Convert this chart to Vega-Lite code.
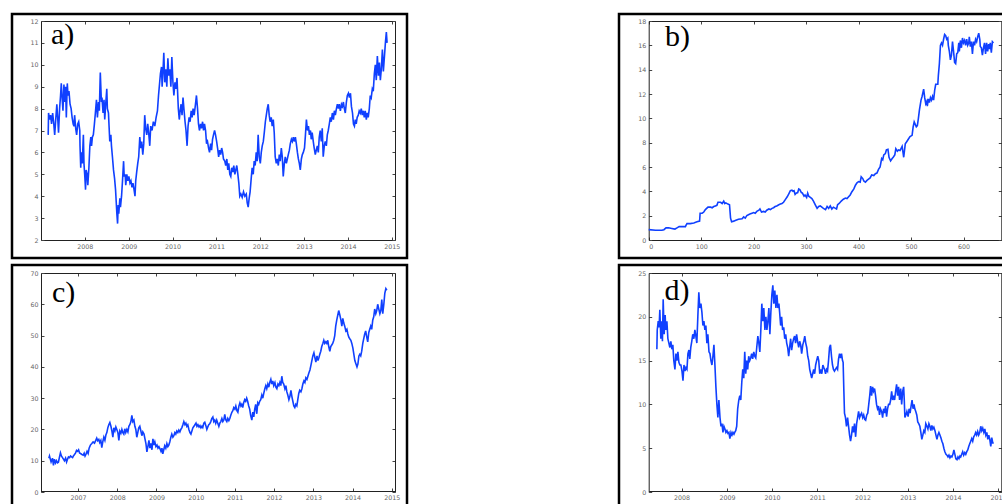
{
"$schema": "https://vega.github.io/schema/vega-lite/v6.json",
"background": "white",
"padding": {"left": 10, "top": 12, "right": 0, "bottom": 0},
"autosize": {"type": "pad"},
"bounds": "flush",
"columns": 2,
"spacing": {"row": 7, "column": 212},
"config": {
  "view": {"stroke": "#000", "strokeWidth": 2.5},
  "axis": {"labelFont": "DejaVu Sans", "labelFontSize": 6.3, "labelColor": "#666", "domainColor": "#222", "domainWidth": 1, "tickColor": "#444", "tickSize": -3, "tickWidth": 1, "labelPadding": 6, "grid": false, "labelOverlap": false},
  "title": {"font": "Liberation Serif", "fontSize": 30, "fontWeight": "normal", "color": "#000", "anchor": "start", "frame": "group", "offset": 0, "baseline": "alphabetic"},
  "line": {"color": "#1040ff", "strokeWidth": 1.6}
},
"datasets": {
"a": [
{"date":"2007-03-02","value":6.8},{"date":"2007-03-05","value":7.8},{"date":"2007-03-13","value":7.5},{"date":"2007-03-22","value":7.7},{"date":"2007-03-30","value":7.3},{"date":"2007-04-08","value":7.8},{"date":"2007-04-16","value":7.4},{"date":"2007-04-25","value":6.8},{"date":"2007-05-05","value":7.6},{"date":"2007-05-13","value":8.2},{"date":"2007-05-22","value":7.4},{"date":"2007-05-27","value":6.9},{"date":"2007-06-05","value":8.0},{"date":"2007-06-13","value":8.6},{"date":"2007-06-19","value":9.15},{"date":"2007-06-27","value":8.4},{"date":"2007-07-03","value":7.9},{"date":"2007-07-11","value":9.1},{"date":"2007-07-17","value":8.3},{"date":"2007-07-25","value":9.0},{"date":"2007-07-31","value":7.6},{"date":"2007-08-08","value":9.15},{"date":"2007-08-14","value":8.6},{"date":"2007-08-22","value":8.8},{"date":"2007-08-31","value":8.2},{"date":"2007-09-09","value":8.0},{"date":"2007-09-17","value":7.6},{"date":"2007-09-26","value":7.3},{"date":"2007-10-03","value":7.2},{"date":"2007-10-08","value":7.7},{"date":"2007-10-17","value":7.1},{"date":"2007-10-25","value":6.8},{"date":"2007-11-03","value":7.3},{"date":"2007-11-11","value":7.4},{"date":"2007-11-20","value":7.0},{"date":"2007-11-22","value":6.3},{"date":"2007-11-28","value":5.3},{"date":"2007-12-03","value":6.0},{"date":"2007-12-11","value":5.5},{"date":"2007-12-20","value":6.8},{"date":"2007-12-25","value":5.5},
{"date":"2008-01-01","value":4.9},{"date":"2008-01-07","value":4.3},{"date":"2008-01-12","value":5.2},{"date":"2008-01-20","value":5.0},{"date":"2008-01-26","value":4.5},{"date":"2008-02-04","value":5.3},{"date":"2008-02-12","value":6.3},{"date":"2008-02-20","value":6.7},{"date":"2008-02-26","value":6.3},{"date":"2008-03-04","value":6.7},{"date":"2008-03-12","value":6.8},{"date":"2008-03-21","value":7.3},{"date":"2008-03-29","value":7.8},{"date":"2008-04-07","value":8.4},{"date":"2008-04-15","value":7.6},{"date":"2008-04-24","value":8.3},{"date":"2008-05-01","value":7.9},{"date":"2008-05-09","value":9.65},{"date":"2008-05-18","value":8.3},{"date":"2008-05-23","value":8.5},{"date":"2008-06-01","value":7.8},{"date":"2008-06-09","value":8.4},{"date":"2008-06-15","value":7.5},{"date":"2008-06-23","value":8.2},{"date":"2008-07-02","value":8.9},{"date":"2008-07-07","value":8.0},{"date":"2008-07-16","value":7.8},{"date":"2008-07-21","value":7.2},{"date":"2008-07-27","value":6.5},{"date":"2008-08-05","value":6.8},{"date":"2008-08-10","value":6.3},{"date":"2008-08-18","value":5.8},{"date":"2008-08-27","value":5.2},{"date":"2008-09-05","value":4.8},{"date":"2008-09-13","value":4.3},{"date":"2008-09-19","value":3.7},{"date":"2008-09-24","value":3.2},{"date":"2008-09-30","value":2.75},{"date":"2008-10-05","value":3.6},{"date":"2008-10-10","value":3.2},{"date":"2008-10-19","value":3.9},{"date":"2008-10-24","value":3.5},{"date":"2008-11-02","value":4.0},{"date":"2008-11-10","value":4.7},{"date":"2008-11-19","value":5.6},{"date":"2008-11-24","value":4.9},{"date":"2008-12-02","value":5.0},{"date":"2008-12-07","value":4.5},{"date":"2008-12-16","value":5.0},{"date":"2008-12-24","value":4.7},
{"date":"2009-01-02","value":4.9},{"date":"2009-01-11","value":4.6},{"date":"2009-01-19","value":4.7},{"date":"2009-01-28","value":4.4},{"date":"2009-02-05","value":4.6},{"date":"2009-02-14","value":4.3},{"date":"2009-02-22","value":4.0},{"date":"2009-02-28","value":4.7},{"date":"2009-03-08","value":5.1},{"date":"2009-03-17","value":5.5},{"date":"2009-03-25","value":5.8},{"date":"2009-04-03","value":6.7},{"date":"2009-04-11","value":6.2},{"date":"2009-04-19","value":6.5},{"date":"2009-04-28","value":5.9},{"date":"2009-05-06","value":6.4},{"date":"2009-05-14","value":7.7},{"date":"2009-05-22","value":7.1},{"date":"2009-05-31","value":6.8},{"date":"2009-06-08","value":7.3},{"date":"2009-06-16","value":6.9},{"date":"2009-06-25","value":6.3},{"date":"2009-07-03","value":7.2},{"date":"2009-07-14","value":7.0},{"date":"2009-07-25","value":7.4},{"date":"2009-08-06","value":7.2},{"date":"2009-08-17","value":7.6},{"date":"2009-08-28","value":7.9},{"date":"2009-09-06","value":8.6},{"date":"2009-09-14","value":9.1},{"date":"2009-09-22","value":9.6},{"date":"2009-10-01","value":9.9},{"date":"2009-10-06","value":9.0},{"date":"2009-10-14","value":9.8},{"date":"2009-10-20","value":10.55},{"date":"2009-10-28","value":9.2},{"date":"2009-11-06","value":9.8},{"date":"2009-11-14","value":9.0},{"date":"2009-11-23","value":10.3},{"date":"2009-12-01","value":9.5},{"date":"2009-12-09","value":9.8},{"date":"2009-12-18","value":9.0},{"date":"2009-12-26","value":10.35},
{"date":"2010-01-04","value":9.2},{"date":"2010-01-12","value":8.6},{"date":"2010-01-21","value":9.2},{"date":"2010-01-29","value":8.9},{"date":"2010-02-07","value":9.4},{"date":"2010-02-18","value":8.0},{"date":"2010-02-26","value":7.5},{"date":"2010-03-05","value":7.9},{"date":"2010-03-13","value":8.2},{"date":"2010-03-21","value":7.7},{"date":"2010-03-29","value":8.5},{"date":"2010-04-07","value":7.9},{"date":"2010-04-15","value":7.4},{"date":"2010-04-23","value":7.0},{"date":"2010-05-02","value":6.3},{"date":"2010-05-10","value":7.2},{"date":"2010-05-19","value":7.6},{"date":"2010-05-27","value":7.4},{"date":"2010-06-05","value":7.9},{"date":"2010-06-13","value":7.6},{"date":"2010-06-21","value":8.0},{"date":"2010-06-30","value":7.7},{"date":"2010-07-11","value":8.2},{"date":"2010-07-19","value":8.6},{"date":"2010-07-28","value":8.0},{"date":"2010-08-05","value":7.3},{"date":"2010-08-13","value":7.0},{"date":"2010-08-22","value":7.3},{"date":"2010-08-30","value":7.1},{"date":"2010-09-08","value":7.4},{"date":"2010-09-16","value":7.0},{"date":"2010-09-24","value":7.3},{"date":"2010-10-03","value":7.0},{"date":"2010-10-11","value":6.4},{"date":"2010-10-19","value":6.5},{"date":"2010-10-28","value":6.2},{"date":"2010-11-05","value":6.0},{"date":"2010-11-14","value":6.4},{"date":"2010-11-22","value":6.1},{"date":"2010-11-30","value":6.6},{"date":"2010-12-08","value":6.8},{"date":"2010-12-17","value":7.0},{"date":"2010-12-25","value":6.8},
{"date":"2011-01-03","value":6.5},{"date":"2011-01-11","value":6.2},{"date":"2011-01-20","value":5.8},{"date":"2011-01-28","value":6.1},{"date":"2011-02-06","value":5.9},{"date":"2011-02-14","value":6.2},{"date":"2011-02-22","value":6.0},{"date":"2011-03-01","value":5.7},{"date":"2011-03-12","value":5.6},{"date":"2011-03-20","value":5.4},{"date":"2011-03-29","value":5.7},{"date":"2011-04-06","value":5.2},{"date":"2011-04-14","value":5.5},{"date":"2011-04-23","value":5.0},{"date":"2011-05-01","value":4.9},{"date":"2011-05-09","value":5.3},{"date":"2011-05-18","value":5.1},{"date":"2011-05-26","value":5.4},{"date":"2011-06-04","value":5.0},{"date":"2011-06-12","value":5.2},{"date":"2011-06-20","value":5.4},{"date":"2011-06-29","value":5.0},{"date":"2011-07-07","value":4.6},{"date":"2011-07-15","value":4.0},{"date":"2011-07-24","value":4.1},{"date":"2011-08-04","value":3.95},{"date":"2011-08-15","value":4.2},{"date":"2011-08-26","value":4.0},{"date":"2011-09-07","value":4.1},{"date":"2011-09-15","value":3.7},{"date":"2011-09-23","value":3.5},{"date":"2011-10-01","value":3.9},{"date":"2011-10-09","value":4.2},{"date":"2011-10-18","value":4.8},{"date":"2011-10-26","value":5.3},{"date":"2011-11-04","value":5.0},{"date":"2011-11-12","value":5.6},{"date":"2011-11-20","value":5.4},{"date":"2011-11-29","value":6.0},{"date":"2011-12-07","value":5.6},{"date":"2011-12-15","value":6.8},{"date":"2011-12-24","value":5.8},
{"date":"2012-01-02","value":5.5},{"date":"2012-01-10","value":6.0},{"date":"2012-01-18","value":6.3},{"date":"2012-01-27","value":6.5},{"date":"2012-02-04","value":6.9},{"date":"2012-02-13","value":7.4},{"date":"2012-02-21","value":7.7},{"date":"2012-02-29","value":8.0},{"date":"2012-03-08","value":8.2},{"date":"2012-03-16","value":7.7},{"date":"2012-03-24","value":7.4},{"date":"2012-04-02","value":7.6},{"date":"2012-04-10","value":7.2},{"date":"2012-04-19","value":7.5},{"date":"2012-04-27","value":6.9},{"date":"2012-05-05","value":5.8},{"date":"2012-05-14","value":5.5},{"date":"2012-05-22","value":5.7},{"date":"2012-05-31","value":5.4},{"date":"2012-06-08","value":5.9},{"date":"2012-06-16","value":5.6},{"date":"2012-06-25","value":6.2},{"date":"2012-07-03","value":5.8},{"date":"2012-07-11","value":4.9},{"date":"2012-07-20","value":5.5},{"date":"2012-07-28","value":5.8},{"date":"2012-08-06","value":5.5},{"date":"2012-08-14","value":5.7},{"date":"2012-08-22","value":5.9},{"date":"2012-08-31","value":6.1},{"date":"2012-09-08","value":6.4},{"date":"2012-09-17","value":6.6},{"date":"2012-09-25","value":6.5},{"date":"2012-10-03","value":6.7},{"date":"2012-10-11","value":6.5},{"date":"2012-10-20","value":6.7},{"date":"2012-10-28","value":6.4},{"date":"2012-11-06","value":6.0},{"date":"2012-11-14","value":5.7},{"date":"2012-11-22","value":5.5},{"date":"2012-11-30","value":5.2},{"date":"2012-12-09","value":5.7},{"date":"2012-12-17","value":5.9},{"date":"2012-12-25","value":6.0},
{"date":"2013-01-04","value":6.2},{"date":"2013-01-12","value":6.8},{"date":"2013-01-20","value":7.5},{"date":"2013-01-29","value":7.0},{"date":"2013-02-06","value":7.2},{"date":"2013-02-14","value":6.8},{"date":"2013-02-23","value":7.0},{"date":"2013-03-01","value":6.6},{"date":"2013-03-09","value":6.9},{"date":"2013-03-18","value":6.5},{"date":"2013-03-26","value":6.2},{"date":"2013-04-04","value":5.9},{"date":"2013-04-12","value":6.1},{"date":"2013-04-21","value":6.3},{"date":"2013-04-29","value":6.0},{"date":"2013-05-07","value":6.7},{"date":"2013-05-15","value":7.0},{"date":"2013-05-24","value":6.5},{"date":"2013-06-01","value":7.1},{"date":"2013-06-09","value":5.8},{"date":"2013-06-18","value":6.3},{"date":"2013-06-26","value":6.5},{"date":"2013-07-05","value":6.3},{"date":"2013-07-13","value":6.8},{"date":"2013-07-21","value":7.0},{"date":"2013-07-30","value":7.3},{"date":"2013-08-07","value":7.6},{"date":"2013-08-15","value":7.4},{"date":"2013-08-24","value":7.8},{"date":"2013-09-02","value":7.5},{"date":"2013-09-10","value":7.9},{"date":"2013-09-18","value":7.7},{"date":"2013-09-27","value":8.0},{"date":"2013-10-05","value":8.2},{"date":"2013-10-13","value":8.0},{"date":"2013-10-21","value":8.2},{"date":"2013-10-30","value":7.9},{"date":"2013-11-08","value":8.2},{"date":"2013-11-16","value":8.1},{"date":"2013-11-24","value":8.3},{"date":"2013-12-02","value":8.0},{"date":"2013-12-10","value":7.8},{"date":"2013-12-19","value":8.3},{"date":"2013-12-27","value":8.6},
{"date":"2014-01-05","value":8.7},{"date":"2014-01-13","value":8.5},{"date":"2014-01-22","value":8.7},{"date":"2014-01-30","value":8.1},{"date":"2014-02-08","value":7.8},{"date":"2014-02-16","value":7.3},{"date":"2014-02-24","value":7.2},{"date":"2014-03-03","value":7.5},{"date":"2014-03-11","value":7.3},{"date":"2014-03-19","value":7.6},{"date":"2014-03-28","value":7.7},{"date":"2014-04-05","value":7.9},{"date":"2014-04-14","value":7.8},{"date":"2014-04-22","value":8.0},{"date":"2014-04-30","value":7.7},{"date":"2014-05-09","value":7.9},{"date":"2014-05-17","value":7.6},{"date":"2014-05-25","value":7.9},{"date":"2014-06-03","value":7.5},{"date":"2014-06-11","value":7.8},{"date":"2014-06-19","value":7.6},{"date":"2014-06-28","value":8.0},{"date":"2014-07-06","value":8.6},{"date":"2014-07-14","value":8.5},{"date":"2014-07-23","value":8.9},{"date":"2014-07-31","value":8.8},{"date":"2014-08-09","value":9.6},{"date":"2014-08-17","value":10.0},{"date":"2014-08-25","value":9.3},{"date":"2014-09-03","value":10.4},{"date":"2014-09-12","value":9.5},{"date":"2014-09-20","value":10.1},{"date":"2014-09-28","value":9.3},{"date":"2014-10-06","value":9.8},{"date":"2014-10-15","value":10.7},{"date":"2014-10-23","value":9.7},{"date":"2014-10-31","value":10.3},{"date":"2014-11-09","value":11.0},{"date":"2014-11-17","value":11.5},{"date":"2014-11-23","value":11.0}
],
"b": [
{"index":0,"value":0.85},{"index":13,"value":0.8},{"index":25,"value":0.8},{"index":29,"value":0.85},{"index":33,"value":1.0},{"index":38,"value":1.0},{"index":44,"value":0.95},{"index":50,"value":0.9},{"index":54,"value":1.0},{"index":58,"value":1.1},{"index":64,"value":1.1},{"index":70,"value":1.1},{"index":71,"value":1.2},{"index":73,"value":1.35},{"index":79,"value":1.35},{"index":86,"value":1.4},{"index":92,"value":1.5},{"index":97,"value":1.55},{"index":98,"value":2.2},{"index":102,"value":2.2},{"index":105,"value":2.3},{"index":108,"value":2.5},{"index":113,"value":2.7},{"index":118,"value":2.7},{"index":121,"value":2.65},{"index":124,"value":2.75},{"index":127,"value":2.8},{"index":130,"value":2.85},{"index":132,"value":3.1},{"index":137,"value":3.1},{"index":140,"value":3.0},{"index":143,"value":3.2},{"index":145,"value":3.0},{"index":147,"value":3.05},{"index":151,"value":2.95},{"index":154,"value":2.9},{"index":156,"value":1.8},{"index":158,"value":1.5},{"index":162,"value":1.55},{"index":165,"value":1.6},{"index":171,"value":1.7},{"index":178,"value":1.75},{"index":181,"value":1.9},{"index":184,"value":1.8},{"index":187,"value":2.0},{"index":191,"value":2.1},{"index":194,"value":2.15},{"index":197,"value":2.2},{"index":200,"value":2.25},{"index":203,"value":2.2},{"index":206,"value":2.35},{"index":210,"value":2.45},{"index":212,"value":2.55},{"index":215,"value":2.3},{"index":219,"value":2.35},{"index":222,"value":2.3},{"index":225,"value":2.45},{"index":229,"value":2.55},{"index":232,"value":2.5},{"index":235,"value":2.6},{"index":238,"value":2.65},{"index":241,"value":2.75},{"index":244,"value":2.8},{"index":248,"value":2.9},{"index":251,"value":2.95},{"index":254,"value":3.0},{"index":257,"value":3.1},{"index":260,"value":3.3},{"index":264,"value":3.55},{"index":267,"value":3.8},{"index":270,"value":4.05},{"index":273,"value":4.1},{"index":275,"value":4.0},{"index":277,"value":4.05},{"index":279,"value":3.75},{"index":281,"value":3.85},{"index":284,"value":3.9},{"index":286,"value":4.2},{"index":288,"value":4.15},{"index":291,"value":3.9},{"index":293,"value":3.85},{"index":296,"value":3.6},{"index":298,"value":3.7},{"index":301,"value":3.5},{"index":303,"value":3.85},{"index":305,"value":3.6},{"index":308,"value":3.5},{"index":311,"value":3.4},{"index":314,"value":3.2},{"index":318,"value":2.85},{"index":321,"value":2.6},{"index":324,"value":2.75},{"index":327,"value":2.8},{"index":330,"value":2.7},{"index":333,"value":2.6},{"index":337,"value":2.5},{"index":340,"value":2.75},{"index":343,"value":2.6},{"index":346,"value":2.8},{"index":349,"value":2.55},{"index":352,"value":2.7},{"index":356,"value":2.6},{"index":358,"value":2.55},{"index":360,"value":2.9},{"index":363,"value":3.0},{"index":367,"value":3.2},{"index":371,"value":3.35},{"index":375,"value":3.45},{"index":378,"value":3.4},{"index":381,"value":3.55},{"index":384,"value":3.7},{"index":387,"value":3.95},{"index":391,"value":4.2},{"index":394,"value":4.5},{"index":397,"value":4.7},{"index":400,"value":4.8},{"index":403,"value":4.75},{"index":405,"value":5.2},{"index":408,"value":5.05},{"index":410,"value":4.85},{"index":413,"value":4.75},{"index":416,"value":4.9},{"index":419,"value":5.0},{"index":422,"value":5.1},{"index":425,"value":5.35},{"index":429,"value":5.3},{"index":432,"value":5.45},{"index":435,"value":5.5},{"index":438,"value":5.8},{"index":441,"value":6.0},{"index":444,"value":6.7},{"index":446,"value":6.6},{"index":448,"value":7.0},{"index":451,"value":7.1},{"index":453,"value":7.4},{"index":456,"value":7.45},{"index":458,"value":6.8},{"index":461,"value":6.5},{"index":464,"value":6.7},{"index":466,"value":6.8},{"index":469,"value":7.0},{"index":471,"value":7.5},{"index":474,"value":7.3},{"index":476,"value":7.4},{"index":479,"value":7.35},{"index":483,"value":7.7},{"index":485,"value":7.1},{"index":486,"value":6.8},{"index":489,"value":7.9},{"index":492,"value":8.1},{"index":495,"value":8.3},{"index":498,"value":8.5},{"index":502,"value":8.6},{"index":504,"value":9.3},{"index":506,"value":9.7},{"index":508,"value":9.5},{"index":510,"value":9.3},{"index":512,"value":9.4},{"index":514,"value":10.0},{"index":516,"value":10.7},{"index":519,"value":11.5},{"index":521,"value":11.8},{"index":523,"value":12.2},{"index":524,"value":12.4},{"index":526,"value":11.7},{"index":528,"value":11.2},{"index":530,"value":11.4},{"index":531,"value":11.0},{"index":533,"value":11.6},{"index":535,"value":11.3},{"index":537,"value":11.7},{"index":539,"value":11.5},{"index":541,"value":11.8},{"index":543,"value":11.5},{"index":545,"value":12.3},{"index":547,"value":12.8},{"index":549,"value":12.8},{"index":551,"value":12.8},{"index":552,"value":13.5},{"index":554,"value":14.5},{"index":556,"value":16.0},{"index":558,"value":16.2},{"index":560,"value":16.0},{"index":562,"value":16.5},{"index":564,"value":16.9},{"index":566,"value":16.8},{"index":568,"value":16.5},{"index":570,"value":16.6},{"index":571,"value":16.0},{"index":573,"value":15.5},{"index":575,"value":14.8},{"index":577,"value":15.2},{"index":579,"value":16.3},{"index":581,"value":15.5},{"index":583,"value":14.6},{"index":585,"value":14.5},{"index":587,"value":15.3},{"index":589,"value":15.4},{"index":591,"value":16.2},{"index":592,"value":15.5},{"index":594,"value":16.4},{"index":596,"value":15.8},{"index":598,"value":16.6},{"index":600,"value":16.2},{"index":602,"value":16.4},{"index":604,"value":16.0},{"index":606,"value":16.5},{"index":608,"value":16.0},{"index":610,"value":16.2},{"index":611,"value":16.7},{"index":613,"value":15.9},{"index":615,"value":16.3},{"index":617,"value":15.3},{"index":619,"value":16.3},{"index":621,"value":16.0},{"index":623,"value":16.5},{"index":625,"value":16.3},{"index":627,"value":16.7},{"index":629,"value":17.0},{"index":631,"value":16.5},{"index":632,"value":15.9},{"index":634,"value":15.8},{"index":636,"value":15.2},{"index":638,"value":15.8},{"index":640,"value":16.2},{"index":642,"value":15.3},{"index":644,"value":16.2},{"index":646,"value":15.5},{"index":648,"value":16.1},{"index":650,"value":15.7},{"index":651,"value":16.2},{"index":653,"value":15.4},{"index":655,"value":16.3},{"index":657,"value":16.2}
],
"c": [
{"date":"2006-04-05","value":10.8},{"date":"2006-04-11","value":11.5},{"date":"2006-04-26","value":9.6},{"date":"2006-05-09","value":10.8},{"date":"2006-05-18","value":8.5},{"date":"2006-05-27","value":10.5},{"date":"2006-06-06","value":9.3},{"date":"2006-06-15","value":10.0},{"date":"2006-06-24","value":9.3},{"date":"2006-07-03","value":9.5},{"date":"2006-07-12","value":11.0},{"date":"2006-07-22","value":12.5},{"date":"2006-07-31","value":11.5},{"date":"2006-08-10","value":11.0},{"date":"2006-08-19","value":10.5},{"date":"2006-08-28","value":10.0},{"date":"2006-09-08","value":10.8},{"date":"2006-09-17","value":9.6},{"date":"2006-09-26","value":10.5},{"date":"2006-10-05","value":11.2},{"date":"2006-10-15","value":11.0},{"date":"2006-10-24","value":11.5},{"date":"2006-11-03","value":11.2},{"date":"2006-11-12","value":11.0},{"date":"2006-11-21","value":11.6},{"date":"2006-11-30","value":12.0},{"date":"2006-12-10","value":12.5},{"date":"2006-12-19","value":13.3},{"date":"2006-12-28","value":13.0},
{"date":"2007-01-07","value":13.5},{"date":"2007-01-16","value":12.5},{"date":"2007-01-25","value":12.3},{"date":"2007-02-07","value":12.0},{"date":"2007-02-19","value":11.8},{"date":"2007-02-28","value":12.4},{"date":"2007-03-08","value":11.5},{"date":"2007-03-18","value":12.2},{"date":"2007-03-27","value":13.0},{"date":"2007-04-06","value":12.3},{"date":"2007-04-15","value":14.0},{"date":"2007-04-27","value":15.0},{"date":"2007-05-10","value":15.5},{"date":"2007-05-22","value":16.0},{"date":"2007-06-04","value":15.6},{"date":"2007-06-16","value":16.5},{"date":"2007-06-25","value":17.2},{"date":"2007-07-04","value":16.4},{"date":"2007-07-14","value":16.8},{"date":"2007-07-23","value":15.8},{"date":"2007-08-02","value":16.5},{"date":"2007-08-11","value":14.2},{"date":"2007-08-20","value":16.0},{"date":"2007-08-30","value":17.5},{"date":"2007-09-09","value":16.5},{"date":"2007-09-18","value":18.2},{"date":"2007-09-27","value":19.0},{"date":"2007-10-06","value":20.5},{"date":"2007-10-15","value":21.5},{"date":"2007-10-25","value":22.2},{"date":"2007-11-04","value":21.0},{"date":"2007-11-13","value":19.5},{"date":"2007-11-22","value":17.5},{"date":"2007-12-01","value":20.5},{"date":"2007-12-11","value":19.5},{"date":"2007-12-20","value":20.8},{"date":"2007-12-29","value":20.0},
{"date":"2008-01-08","value":19.0},{"date":"2008-01-17","value":16.5},{"date":"2008-01-26","value":19.5},{"date":"2008-02-05","value":18.8},{"date":"2008-02-14","value":20.0},{"date":"2008-02-23","value":19.0},{"date":"2008-03-03","value":18.5},{"date":"2008-03-12","value":20.2},{"date":"2008-03-21","value":19.0},{"date":"2008-03-31","value":20.0},{"date":"2008-04-10","value":19.2},{"date":"2008-04-19","value":21.0},{"date":"2008-04-28","value":21.5},{"date":"2008-05-08","value":22.5},{"date":"2008-05-17","value":24.5},{"date":"2008-05-26","value":22.5},{"date":"2008-06-05","value":23.0},{"date":"2008-06-14","value":21.0},{"date":"2008-06-23","value":20.0},{"date":"2008-07-02","value":17.5},{"date":"2008-07-11","value":19.0},{"date":"2008-07-20","value":20.5},{"date":"2008-07-30","value":21.0},{"date":"2008-08-09","value":19.5},{"date":"2008-08-18","value":18.0},{"date":"2008-08-27","value":19.2},{"date":"2008-09-07","value":18.5},{"date":"2008-09-16","value":17.0},{"date":"2008-09-25","value":15.5},{"date":"2008-10-04","value":12.8},{"date":"2008-10-13","value":14.5},{"date":"2008-10-23","value":16.5},{"date":"2008-11-01","value":14.0},{"date":"2008-11-10","value":15.5},{"date":"2008-11-20","value":13.5},{"date":"2008-11-29","value":17.0},{"date":"2008-12-08","value":15.0},{"date":"2008-12-17","value":16.0},{"date":"2008-12-27","value":14.5},
{"date":"2009-01-06","value":15.0},{"date":"2009-01-15","value":14.0},{"date":"2009-01-24","value":14.5},{"date":"2009-02-03","value":13.8},{"date":"2009-02-12","value":13.0},{"date":"2009-02-21","value":14.0},{"date":"2009-03-01","value":12.2},{"date":"2009-03-10","value":13.5},{"date":"2009-03-19","value":14.8},{"date":"2009-03-29","value":14.0},{"date":"2009-04-08","value":15.5},{"date":"2009-04-17","value":14.5},{"date":"2009-04-26","value":15.0},{"date":"2009-05-05","value":16.0},{"date":"2009-05-15","value":17.5},{"date":"2009-05-24","value":18.5},{"date":"2009-06-03","value":17.5},{"date":"2009-06-12","value":18.0},{"date":"2009-06-21","value":19.0},{"date":"2009-06-30","value":18.5},{"date":"2009-07-09","value":19.5},{"date":"2009-07-19","value":19.0},{"date":"2009-07-28","value":19.8},{"date":"2009-08-07","value":19.2},{"date":"2009-08-16","value":20.0},{"date":"2009-08-25","value":20.5},{"date":"2009-09-04","value":21.5},{"date":"2009-09-13","value":22.5},{"date":"2009-09-23","value":21.5},{"date":"2009-10-02","value":22.0},{"date":"2009-10-11","value":21.0},{"date":"2009-10-20","value":21.5},{"date":"2009-10-30","value":20.0},{"date":"2009-11-09","value":19.0},{"date":"2009-11-18","value":18.5},{"date":"2009-11-27","value":19.5},{"date":"2009-12-06","value":20.5},{"date":"2009-12-16","value":21.0},{"date":"2009-12-25","value":21.5},
{"date":"2010-01-04","value":22.0},{"date":"2010-01-13","value":21.0},{"date":"2010-01-22","value":21.5},{"date":"2010-02-01","value":20.8},{"date":"2010-02-10","value":21.2},{"date":"2010-02-19","value":20.5},{"date":"2010-02-28","value":21.0},{"date":"2010-03-08","value":20.6},{"date":"2010-03-18","value":22.0},{"date":"2010-03-27","value":22.3},{"date":"2010-04-06","value":21.2},{"date":"2010-04-15","value":20.0},{"date":"2010-04-24","value":20.8},{"date":"2010-05-03","value":21.5},{"date":"2010-05-12","value":21.8},{"date":"2010-05-22","value":22.5},{"date":"2010-05-31","value":23.5},{"date":"2010-06-10","value":24.0},{"date":"2010-06-19","value":22.5},{"date":"2010-06-28","value":23.0},{"date":"2010-07-07","value":22.0},{"date":"2010-07-16","value":23.0},{"date":"2010-07-26","value":22.0},{"date":"2010-08-05","value":21.0},{"date":"2010-08-14","value":22.0},{"date":"2010-08-23","value":22.5},{"date":"2010-09-02","value":23.5},{"date":"2010-09-11","value":22.5},{"date":"2010-09-20","value":23.0},{"date":"2010-09-29","value":24.8},{"date":"2010-10-09","value":23.0},{"date":"2010-10-18","value":22.5},{"date":"2010-10-27","value":23.5},{"date":"2010-11-06","value":22.8},{"date":"2010-11-15","value":23.5},{"date":"2010-11-24","value":24.5},{"date":"2010-12-04","value":25.5},{"date":"2010-12-13","value":26.0},{"date":"2010-12-22","value":27.0},
{"date":"2011-01-01","value":26.5},{"date":"2011-01-10","value":27.5},{"date":"2011-01-20","value":26.0},{"date":"2011-01-29","value":25.5},{"date":"2011-02-08","value":27.5},{"date":"2011-02-17","value":28.5},{"date":"2011-02-26","value":27.5},{"date":"2011-03-06","value":28.0},{"date":"2011-03-15","value":27.0},{"date":"2011-03-24","value":28.5},{"date":"2011-04-03","value":29.5},{"date":"2011-04-12","value":29.0},{"date":"2011-04-21","value":30.0},{"date":"2011-04-30","value":29.0},{"date":"2011-05-10","value":27.5},{"date":"2011-05-19","value":26.5},{"date":"2011-05-28","value":24.5},{"date":"2011-06-08","value":23.0},{"date":"2011-06-17","value":25.5},{"date":"2011-06-26","value":24.0},{"date":"2011-07-05","value":26.5},{"date":"2011-07-14","value":28.0},{"date":"2011-07-24","value":25.0},{"date":"2011-08-02","value":28.5},{"date":"2011-08-11","value":28.0},{"date":"2011-08-20","value":29.0},{"date":"2011-08-30","value":29.5},{"date":"2011-09-09","value":31.0},{"date":"2011-09-18","value":30.0},{"date":"2011-09-27","value":31.5},{"date":"2011-10-07","value":33.0},{"date":"2011-10-16","value":34.0},{"date":"2011-10-25","value":33.0},{"date":"2011-11-04","value":34.5},{"date":"2011-11-13","value":33.5},{"date":"2011-11-22","value":35.0},{"date":"2011-12-02","value":36.0},{"date":"2011-12-11","value":34.5},{"date":"2011-12-20","value":35.5},{"date":"2011-12-29","value":34.0},
{"date":"2012-01-09","value":35.0},{"date":"2012-01-18","value":33.5},{"date":"2012-01-27","value":33.0},{"date":"2012-02-06","value":34.5},{"date":"2012-02-15","value":34.0},{"date":"2012-02-24","value":35.0},{"date":"2012-03-04","value":34.0},{"date":"2012-03-13","value":37.0},{"date":"2012-03-22","value":35.0},{"date":"2012-03-31","value":34.5},{"date":"2012-04-11","value":33.0},{"date":"2012-04-20","value":34.0},{"date":"2012-04-29","value":32.0},{"date":"2012-05-08","value":31.0},{"date":"2012-05-18","value":29.5},{"date":"2012-05-27","value":30.5},{"date":"2012-06-06","value":32.5},{"date":"2012-06-15","value":30.5},{"date":"2012-06-24","value":29.0},{"date":"2012-07-03","value":27.5},{"date":"2012-07-12","value":27.0},{"date":"2012-07-21","value":28.0},{"date":"2012-07-31","value":27.5},{"date":"2012-08-09","value":29.5},{"date":"2012-08-18","value":31.5},{"date":"2012-08-27","value":32.5},{"date":"2012-09-07","value":32.0},{"date":"2012-09-16","value":33.0},{"date":"2012-09-25","value":34.5},{"date":"2012-10-05","value":35.5},{"date":"2012-10-14","value":35.0},{"date":"2012-10-23","value":36.5},{"date":"2012-11-02","value":36.0},{"date":"2012-11-11","value":37.0},{"date":"2012-11-20","value":38.0},{"date":"2012-11-30","value":39.0},{"date":"2012-12-09","value":40.5},{"date":"2012-12-18","value":42.0},{"date":"2012-12-27","value":43.5},
{"date":"2013-01-06","value":44.5},{"date":"2013-01-15","value":43.0},{"date":"2013-01-24","value":41.5},{"date":"2013-02-04","value":43.5},{"date":"2013-02-13","value":42.0},{"date":"2013-02-22","value":43.0},{"date":"2013-03-02","value":44.0},{"date":"2013-03-11","value":45.0},{"date":"2013-03-20","value":46.5},{"date":"2013-03-30","value":47.5},{"date":"2013-04-08","value":48.5},{"date":"2013-04-17","value":47.5},{"date":"2013-04-27","value":48.0},{"date":"2013-05-06","value":47.5},{"date":"2013-05-15","value":48.5},{"date":"2013-05-24","value":46.5},{"date":"2013-06-03","value":45.0},{"date":"2013-06-12","value":46.5},{"date":"2013-06-21","value":47.0},{"date":"2013-06-30","value":47.5},{"date":"2013-07-10","value":48.5},{"date":"2013-07-19","value":50.0},{"date":"2013-07-28","value":53.0},{"date":"2013-08-07","value":55.0},{"date":"2013-08-16","value":56.5},{"date":"2013-08-25","value":58.0},{"date":"2013-09-05","value":56.5},{"date":"2013-09-14","value":55.0},{"date":"2013-09-23","value":53.0},{"date":"2013-10-02","value":55.5},{"date":"2013-10-11","value":54.0},{"date":"2013-10-20","value":53.0},{"date":"2013-10-30","value":51.5},{"date":"2013-11-09","value":52.0},{"date":"2013-11-18","value":50.5},{"date":"2013-11-27","value":49.5},{"date":"2013-12-06","value":49.0},{"date":"2013-12-16","value":48.5},{"date":"2013-12-25","value":47.5},
{"date":"2014-01-04","value":46.0},{"date":"2014-01-13","value":44.0},{"date":"2014-01-22","value":42.0},{"date":"2014-02-01","value":41.0},{"date":"2014-02-11","value":40.0},{"date":"2014-02-20","value":41.0},{"date":"2014-03-01","value":43.5},{"date":"2014-03-09","value":44.0},{"date":"2014-03-18","value":43.5},{"date":"2014-03-27","value":45.0},{"date":"2014-04-06","value":47.5},{"date":"2014-04-15","value":49.0},{"date":"2014-04-24","value":50.5},{"date":"2014-05-03","value":51.5},{"date":"2014-05-13","value":49.5},{"date":"2014-05-22","value":48.0},{"date":"2014-06-01","value":51.0},{"date":"2014-06-10","value":52.0},{"date":"2014-06-19","value":53.0},{"date":"2014-06-28","value":52.0},{"date":"2014-07-08","value":55.0},{"date":"2014-07-17","value":56.0},{"date":"2014-07-26","value":58.5},{"date":"2014-08-05","value":57.0},{"date":"2014-08-14","value":58.0},{"date":"2014-08-23","value":60.0},{"date":"2014-09-02","value":58.5},{"date":"2014-09-12","value":57.0},{"date":"2014-09-21","value":58.0},{"date":"2014-09-30","value":61.5},{"date":"2014-10-09","value":57.0},{"date":"2014-10-19","value":60.0},{"date":"2014-10-28","value":63.5},{"date":"2014-11-07","value":65.0},{"date":"2014-11-16","value":64.5}
],
"d": [
{"date":"2007-06-15","value":16.3},{"date":"2007-06-18","value":18.5},{"date":"2007-06-26","value":19.5},{"date":"2007-07-03","value":18.8},{"date":"2007-07-09","value":20.8},{"date":"2007-07-17","value":17.5},{"date":"2007-07-25","value":19.5},{"date":"2007-07-30","value":17.2},{"date":"2007-08-05","value":22.0},{"date":"2007-08-13","value":18.0},{"date":"2007-08-21","value":20.2},{"date":"2007-08-26","value":18.5},{"date":"2007-09-04","value":19.5},{"date":"2007-09-12","value":17.5},{"date":"2007-09-20","value":17.0},{"date":"2007-09-28","value":16.5},{"date":"2007-10-06","value":17.2},{"date":"2007-10-14","value":16.3},{"date":"2007-10-22","value":16.8},{"date":"2007-10-30","value":15.0},{"date":"2007-11-08","value":14.0},{"date":"2007-11-16","value":15.8},{"date":"2007-11-24","value":15.0},{"date":"2007-12-02","value":16.0},{"date":"2007-12-10","value":14.8},{"date":"2007-12-18","value":14.5},{"date":"2007-12-26","value":14.5},
{"date":"2008-01-04","value":13.8},{"date":"2008-01-12","value":12.7},{"date":"2008-01-20","value":14.5},{"date":"2008-01-28","value":13.8},{"date":"2008-02-05","value":14.2},{"date":"2008-02-13","value":14.0},{"date":"2008-02-21","value":15.8},{"date":"2008-02-29","value":16.2},{"date":"2008-03-07","value":15.2},{"date":"2008-03-15","value":16.5},{"date":"2008-03-23","value":17.2},{"date":"2008-03-31","value":18.0},{"date":"2008-04-09","value":17.5},{"date":"2008-04-17","value":18.5},{"date":"2008-04-25","value":17.8},{"date":"2008-05-03","value":17.0},{"date":"2008-05-11","value":20.0},{"date":"2008-05-19","value":22.8},{"date":"2008-05-27","value":21.0},{"date":"2008-06-05","value":21.5},{"date":"2008-06-13","value":20.5},{"date":"2008-06-21","value":19.0},{"date":"2008-06-29","value":19.5},{"date":"2008-07-07","value":18.5},{"date":"2008-07-15","value":19.0},{"date":"2008-07-23","value":17.0},{"date":"2008-07-31","value":18.0},{"date":"2008-08-09","value":16.0},{"date":"2008-08-17","value":15.8},{"date":"2008-08-25","value":15.0},{"date":"2008-09-02","value":14.5},{"date":"2008-09-10","value":15.5},{"date":"2008-09-18","value":16.8},{"date":"2008-09-26","value":14.5},{"date":"2008-10-04","value":12.0},{"date":"2008-10-12","value":10.0},{"date":"2008-10-20","value":8.5},{"date":"2008-10-28","value":10.5},{"date":"2008-11-06","value":8.5},{"date":"2008-11-14","value":7.5},{"date":"2008-11-22","value":7.8},{"date":"2008-11-30","value":6.8},{"date":"2008-12-08","value":7.5},{"date":"2008-12-16","value":7.2},{"date":"2008-12-24","value":6.8},
{"date":"2009-01-01","value":7.0},{"date":"2009-01-09","value":6.7},{"date":"2009-01-17","value":6.8},{"date":"2009-01-25","value":6.1},{"date":"2009-02-03","value":6.8},{"date":"2009-02-11","value":6.5},{"date":"2009-02-19","value":6.8},{"date":"2009-02-27","value":6.6},{"date":"2009-03-05","value":6.8},{"date":"2009-03-13","value":7.0},{"date":"2009-03-21","value":7.5},{"date":"2009-03-29","value":9.5},{"date":"2009-04-07","value":10.5},{"date":"2009-04-15","value":11.0},{"date":"2009-04-23","value":10.5},{"date":"2009-05-01","value":12.5},{"date":"2009-05-09","value":14.0},{"date":"2009-05-17","value":13.0},{"date":"2009-05-25","value":16.0},{"date":"2009-06-02","value":13.5},{"date":"2009-06-10","value":15.0},{"date":"2009-06-18","value":14.0},{"date":"2009-06-26","value":15.5},{"date":"2009-07-04","value":15.0},{"date":"2009-07-12","value":15.3},{"date":"2009-07-20","value":15.8},{"date":"2009-07-28","value":15.2},{"date":"2009-08-06","value":16.0},{"date":"2009-08-14","value":15.5},{"date":"2009-08-22","value":15.3},{"date":"2009-08-30","value":16.5},{"date":"2009-09-08","value":17.8},{"date":"2009-09-16","value":17.0},{"date":"2009-09-24","value":16.0},{"date":"2009-10-02","value":18.5},{"date":"2009-10-10","value":21.5},{"date":"2009-10-18","value":19.5},{"date":"2009-10-26","value":21.0},{"date":"2009-11-04","value":18.5},{"date":"2009-11-12","value":20.0},{"date":"2009-11-20","value":18.5},{"date":"2009-11-28","value":19.5},{"date":"2009-12-06","value":21.0},{"date":"2009-12-14","value":18.0},{"date":"2009-12-22","value":20.5},{"date":"2009-12-30","value":22.5},
{"date":"2010-01-07","value":23.6},{"date":"2010-01-15","value":21.5},{"date":"2010-01-23","value":23.0},{"date":"2010-02-01","value":21.0},{"date":"2010-02-09","value":22.5},{"date":"2010-02-17","value":21.0},{"date":"2010-02-25","value":21.5},{"date":"2010-03-03","value":20.5},{"date":"2010-03-11","value":19.0},{"date":"2010-03-19","value":20.0},{"date":"2010-03-27","value":18.5},{"date":"2010-04-05","value":18.8},{"date":"2010-04-13","value":17.5},{"date":"2010-04-21","value":18.0},{"date":"2010-04-29","value":17.0},{"date":"2010-05-07","value":16.5},{"date":"2010-05-15","value":15.5},{"date":"2010-05-23","value":16.5},{"date":"2010-05-31","value":17.5},{"date":"2010-06-08","value":16.2},{"date":"2010-06-16","value":17.0},{"date":"2010-06-24","value":17.5},{"date":"2010-07-02","value":17.8},{"date":"2010-07-10","value":17.0},{"date":"2010-07-18","value":18.0},{"date":"2010-07-26","value":17.2},{"date":"2010-08-04","value":16.5},{"date":"2010-08-12","value":17.2},{"date":"2010-08-20","value":16.8},{"date":"2010-08-28","value":15.8},{"date":"2010-09-06","value":16.8},{"date":"2010-09-14","value":17.2},{"date":"2010-09-22","value":17.8},{"date":"2010-09-30","value":17.0},{"date":"2010-10-08","value":16.5},{"date":"2010-10-16","value":15.5},{"date":"2010-10-24","value":15.0},{"date":"2010-11-01","value":14.0},{"date":"2010-11-09","value":13.5},{"date":"2010-11-17","value":13.0},{"date":"2010-11-25","value":13.5},{"date":"2010-12-03","value":14.0},{"date":"2010-12-11","value":13.5},{"date":"2010-12-19","value":14.5},{"date":"2010-12-27","value":15.0},
{"date":"2011-01-05","value":15.5},{"date":"2011-01-13","value":15.0},{"date":"2011-01-21","value":13.5},{"date":"2011-01-29","value":14.0},{"date":"2011-02-07","value":13.5},{"date":"2011-02-15","value":14.5},{"date":"2011-02-23","value":14.2},{"date":"2011-03-01","value":14.0},{"date":"2011-03-09","value":13.5},{"date":"2011-03-17","value":14.0},{"date":"2011-03-25","value":13.8},{"date":"2011-04-02","value":15.0},{"date":"2011-04-10","value":16.5},{"date":"2011-04-18","value":16.8},{"date":"2011-04-26","value":15.5},{"date":"2011-05-04","value":14.5},{"date":"2011-05-12","value":14.0},{"date":"2011-05-20","value":13.8},{"date":"2011-05-28","value":14.0},{"date":"2011-06-06","value":14.2},{"date":"2011-06-14","value":14.0},{"date":"2011-06-22","value":15.2},{"date":"2011-06-30","value":15.8},{"date":"2011-07-08","value":15.3},{"date":"2011-07-16","value":15.8},{"date":"2011-07-24","value":15.0},{"date":"2011-07-29","value":14.8},{"date":"2011-08-04","value":11.5},{"date":"2011-08-09","value":9.0},{"date":"2011-08-17","value":8.5},{"date":"2011-08-25","value":7.5},{"date":"2011-09-03","value":8.5},{"date":"2011-09-11","value":7.5},{"date":"2011-09-19","value":6.5},{"date":"2011-09-27","value":5.8},{"date":"2011-10-05","value":6.5},{"date":"2011-10-13","value":7.5},{"date":"2011-10-21","value":6.8},{"date":"2011-10-29","value":7.8},{"date":"2011-11-07","value":6.3},{"date":"2011-11-15","value":7.8},{"date":"2011-11-23","value":8.5},{"date":"2011-12-01","value":9.2},{"date":"2011-12-09","value":8.5},{"date":"2011-12-17","value":8.8},{"date":"2011-12-25","value":9.0},
{"date":"2012-01-03","value":8.5},{"date":"2012-01-11","value":8.8},{"date":"2012-01-19","value":8.3},{"date":"2012-01-27","value":8.2},{"date":"2012-02-05","value":8.8},{"date":"2012-02-13","value":9.0},{"date":"2012-02-21","value":10.0},{"date":"2012-02-29","value":11.0},{"date":"2012-03-07","value":12.1},{"date":"2012-03-15","value":11.0},{"date":"2012-03-23","value":12.0},{"date":"2012-03-31","value":11.5},{"date":"2012-04-08","value":11.8},{"date":"2012-04-16","value":11.0},{"date":"2012-04-24","value":10.0},{"date":"2012-05-02","value":9.5},{"date":"2012-05-10","value":9.8},{"date":"2012-05-18","value":8.8},{"date":"2012-05-26","value":9.5},{"date":"2012-06-04","value":9.2},{"date":"2012-06-12","value":8.5},{"date":"2012-06-20","value":9.5},{"date":"2012-06-28","value":9.0},{"date":"2012-07-06","value":9.8},{"date":"2012-07-14","value":8.6},{"date":"2012-07-22","value":9.5},{"date":"2012-07-30","value":10.0},{"date":"2012-08-08","value":10.0},{"date":"2012-08-16","value":10.5},{"date":"2012-08-24","value":11.5},{"date":"2012-09-01","value":10.5},{"date":"2012-09-09","value":11.0},{"date":"2012-09-17","value":10.5},{"date":"2012-09-25","value":11.5},{"date":"2012-10-03","value":12.3},{"date":"2012-10-11","value":11.0},{"date":"2012-10-19","value":12.0},{"date":"2012-10-27","value":10.5},{"date":"2012-11-05","value":11.8},{"date":"2012-11-13","value":10.0},{"date":"2012-11-21","value":11.5},{"date":"2012-11-29","value":12.0},{"date":"2012-12-04","value":10.5},{"date":"2012-12-09","value":8.5},{"date":"2012-12-17","value":8.8},{"date":"2012-12-25","value":9.2},
{"date":"2013-01-04","value":8.6},{"date":"2013-01-12","value":9.5},{"date":"2013-01-20","value":9.0},{"date":"2013-01-28","value":9.8},{"date":"2013-02-05","value":10.5},{"date":"2013-02-13","value":9.5},{"date":"2013-02-21","value":10.0},{"date":"2013-02-27","value":9.5},{"date":"2013-03-07","value":9.2},{"date":"2013-03-15","value":8.8},{"date":"2013-03-23","value":8.0},{"date":"2013-03-31","value":7.8},{"date":"2013-04-09","value":7.5},{"date":"2013-04-17","value":6.8},{"date":"2013-04-25","value":6.0},{"date":"2013-05-03","value":6.5},{"date":"2013-05-11","value":7.0},{"date":"2013-05-19","value":6.8},{"date":"2013-05-27","value":7.8},{"date":"2013-06-05","value":7.5},{"date":"2013-06-13","value":7.2},{"date":"2013-06-21","value":7.8},{"date":"2013-06-29","value":7.5},{"date":"2013-07-07","value":7.0},{"date":"2013-07-15","value":7.6},{"date":"2013-07-23","value":7.2},{"date":"2013-07-31","value":7.4},{"date":"2013-08-09","value":7.0},{"date":"2013-08-17","value":6.5},{"date":"2013-08-25","value":6.0},{"date":"2013-09-02","value":6.5},{"date":"2013-09-10","value":6.8},{"date":"2013-09-18","value":6.5},{"date":"2013-09-26","value":6.2},{"date":"2013-10-04","value":5.8},{"date":"2013-10-12","value":5.5},{"date":"2013-10-20","value":5.0},{"date":"2013-10-28","value":4.6},{"date":"2013-11-06","value":4.3},{"date":"2013-11-14","value":4.2},{"date":"2013-11-22","value":4.0},{"date":"2013-11-30","value":4.2},{"date":"2013-12-08","value":3.9},{"date":"2013-12-16","value":4.1},{"date":"2013-12-24","value":4.0},
{"date":"2014-01-01","value":4.3},{"date":"2014-01-09","value":4.8},{"date":"2014-01-17","value":4.3},{"date":"2014-01-25","value":3.8},{"date":"2014-02-03","value":3.7},{"date":"2014-02-11","value":4.0},{"date":"2014-02-19","value":3.8},{"date":"2014-02-27","value":4.1},{"date":"2014-03-05","value":4.0},{"date":"2014-03-13","value":4.3},{"date":"2014-03-21","value":4.6},{"date":"2014-03-29","value":4.2},{"date":"2014-04-07","value":4.5},{"date":"2014-04-15","value":4.3},{"date":"2014-04-23","value":4.6},{"date":"2014-05-01","value":4.8},{"date":"2014-05-09","value":5.2},{"date":"2014-05-17","value":5.5},{"date":"2014-05-25","value":5.8},{"date":"2014-06-02","value":6.1},{"date":"2014-06-10","value":5.8},{"date":"2014-06-18","value":6.3},{"date":"2014-06-26","value":6.5},{"date":"2014-07-04","value":6.8},{"date":"2014-07-12","value":6.5},{"date":"2014-07-20","value":6.9},{"date":"2014-07-28","value":6.5},{"date":"2014-08-06","value":6.8},{"date":"2014-08-14","value":7.5},{"date":"2014-08-22","value":7.0},{"date":"2014-08-30","value":7.3},{"date":"2014-09-08","value":6.8},{"date":"2014-09-16","value":7.2},{"date":"2014-09-24","value":6.5},{"date":"2014-10-02","value":6.8},{"date":"2014-10-10","value":6.0},{"date":"2014-10-18","value":6.5},{"date":"2014-10-26","value":6.0},{"date":"2014-11-03","value":5.2},{"date":"2014-11-11","value":6.2},{"date":"2014-11-19","value":5.6},{"date":"2014-11-27","value":5.6}
]
},
"concat": [
{"width": 395, "height": 244, "data": {"name": "a"},
 "title": {"text": "a)", "dx": 39, "dy": 40},
 "layer": [
  {"mark": {"type": "line"},
   "encoding": {
    "x": {"field": "date", "type": "temporal", "title": null, "scale": {"domain": [{"year": 2007, "month": 1, "date": 1}, {"year": 2015, "month": 1, "date": 28}], "range": [29, 383]}, "axis": {"orient": "bottom", "offset": -18, "format": "%Y", "values": [{"year": 2008}, {"year": 2009}, {"year": 2010}, {"year": 2011}, {"year": 2012}, {"year": 2013}, {"year": 2014}, {"year": 2015}]}},
    "y": {"field": "value", "type": "quantitative", "title": null, "scale": {"domain": [2, 12], "range": [226, 7]}, "axis": {"orient": "left", "offset": -29, "values": [2,3,4,5,6,7,8,9,10,11,12]}}}},
  {"mark": {"type": "line", "opacity": 0},
   "encoding": {
    "x": {"field": "date", "type": "temporal", "title": null, "scale": {"domain": [{"year": 2007, "month": 1, "date": 1}, {"year": 2015, "month": 1, "date": 28}], "range": [29, 383]}, "axis": {"orient": "top", "offset": -7, "labels": false, "values": [{"year": 2008}, {"year": 2009}, {"year": 2010}, {"year": 2011}, {"year": 2012}, {"year": 2013}, {"year": 2014}, {"year": 2015}]}},
    "y": {"field": "value", "type": "quantitative", "title": null, "scale": {"domain": [2, 12], "range": [226, 7]}, "axis": {"orient": "right", "offset": -12, "labels": false, "values": [2,3,4,5,6,7,8,9,10,11,12]}}}}
 ],
 "resolve": {"axis": {"x": "independent", "y": "independent"}}
},
{"width": 395, "height": 244, "data": {"name": "b"},
 "title": {"text": "b)", "dx": 46, "dy": 42},
 "layer": [
  {"mark": {"type": "line"},
   "encoding": {
    "x": {"field": "index", "type": "quantitative", "title": null, "scale": {"domain": [0, 672], "range": [29.7, 382.3]}, "axis": {"orient": "bottom", "offset": -18, "values": [0,100,200,300,400,500,600]}},
    "y": {"field": "value", "type": "quantitative", "title": null, "scale": {"domain": [0, 18], "range": [226, 7]}, "axis": {"orient": "left", "offset": -29.7, "values": [0,2,4,6,8,10,12,14,16,18]}}}},
  {"mark": {"type": "line", "opacity": 0},
   "encoding": {
    "x": {"field": "index", "type": "quantitative", "title": null, "scale": {"domain": [0, 672], "range": [29.7, 382.3]}, "axis": {"orient": "top", "offset": -7, "labels": false, "values": [0,100,200,300,400,500,600]}},
    "y": {"field": "value", "type": "quantitative", "title": null, "scale": {"domain": [0, 18], "range": [226, 7]}, "axis": {"orient": "right", "offset": -12.7, "labels": false, "values": [0,2,4,6,8,10,12,14,16,18]}}}}
 ],
 "resolve": {"axis": {"x": "independent", "y": "independent"}}
},
{"width": 395, "height": 244, "data": {"name": "c"},
 "title": {"text": "c)", "dx": 40, "dy": 47},
 "layer": [
  {"mark": {"type": "line"},
   "encoding": {
    "x": {"field": "date", "type": "temporal", "title": null, "scale": {"domain": [{"year": 2006, "month": 1, "date": 22}, {"year": 2015, "month": 1, "date": 31}], "range": [29, 383]}, "axis": {"orient": "bottom", "offset": -18, "format": "%Y", "values": [{"year": 2007}, {"year": 2008}, {"year": 2009}, {"year": 2010}, {"year": 2011}, {"year": 2012}, {"year": 2013}, {"year": 2014}, {"year": 2015}]}},
    "y": {"field": "value", "type": "quantitative", "title": null, "scale": {"domain": [0, 70], "range": [227, 8]}, "axis": {"orient": "left", "offset": -29, "values": [0,10,20,30,40,50,60,70]}}}},
  {"mark": {"type": "line", "opacity": 0},
   "encoding": {
    "x": {"field": "date", "type": "temporal", "title": null, "scale": {"domain": [{"year": 2006, "month": 1, "date": 22}, {"year": 2015, "month": 1, "date": 31}], "range": [29, 383]}, "axis": {"orient": "top", "offset": -8, "labels": false, "values": [{"year": 2007}, {"year": 2008}, {"year": 2009}, {"year": 2010}, {"year": 2011}, {"year": 2012}, {"year": 2013}, {"year": 2014}, {"year": 2015}]}},
    "y": {"field": "value", "type": "quantitative", "title": null, "scale": {"domain": [0, 70], "range": [227, 8]}, "axis": {"orient": "right", "offset": -12, "labels": false, "values": [0,10,20,30,40,50,60,70]}}}}
 ],
 "resolve": {"axis": {"x": "independent", "y": "independent"}}
},
{"width": 395, "height": 244, "data": {"name": "d"},
 "title": {"text": "d)", "dx": 45.5, "dy": 45},
 "layer": [
  {"mark": {"type": "line"},
   "encoding": {
    "x": {"field": "date", "type": "temporal", "title": null, "scale": {"domain": [{"year": 2007, "month": 4, "date": 10}, {"year": 2015, "month": 1, "date": 27}], "range": [29.7, 382.3]}, "axis": {"orient": "bottom", "offset": -18, "format": "%Y", "values": [{"year": 2008}, {"year": 2009}, {"year": 2010}, {"year": 2011}, {"year": 2012}, {"year": 2013}, {"year": 2014}, {"year": 2015}]}},
    "y": {"field": "value", "type": "quantitative", "title": null, "scale": {"domain": [0, 25], "range": [227, 8]}, "axis": {"orient": "left", "offset": -29.7, "values": [0,5,10,15,20,25]}}}},
  {"mark": {"type": "line", "opacity": 0},
   "encoding": {
    "x": {"field": "date", "type": "temporal", "title": null, "scale": {"domain": [{"year": 2007, "month": 4, "date": 10}, {"year": 2015, "month": 1, "date": 27}], "range": [29.7, 382.3]}, "axis": {"orient": "top", "offset": -8, "labels": false, "values": [{"year": 2008}, {"year": 2009}, {"year": 2010}, {"year": 2011}, {"year": 2012}, {"year": 2013}, {"year": 2014}, {"year": 2015}]}},
    "y": {"field": "value", "type": "quantitative", "title": null, "scale": {"domain": [0, 25], "range": [227, 8]}, "axis": {"orient": "right", "offset": -12.7, "labels": false, "values": [0,5,10,15,20,25]}}}}
 ],
 "resolve": {"axis": {"x": "independent", "y": "independent"}}
}
]
}
